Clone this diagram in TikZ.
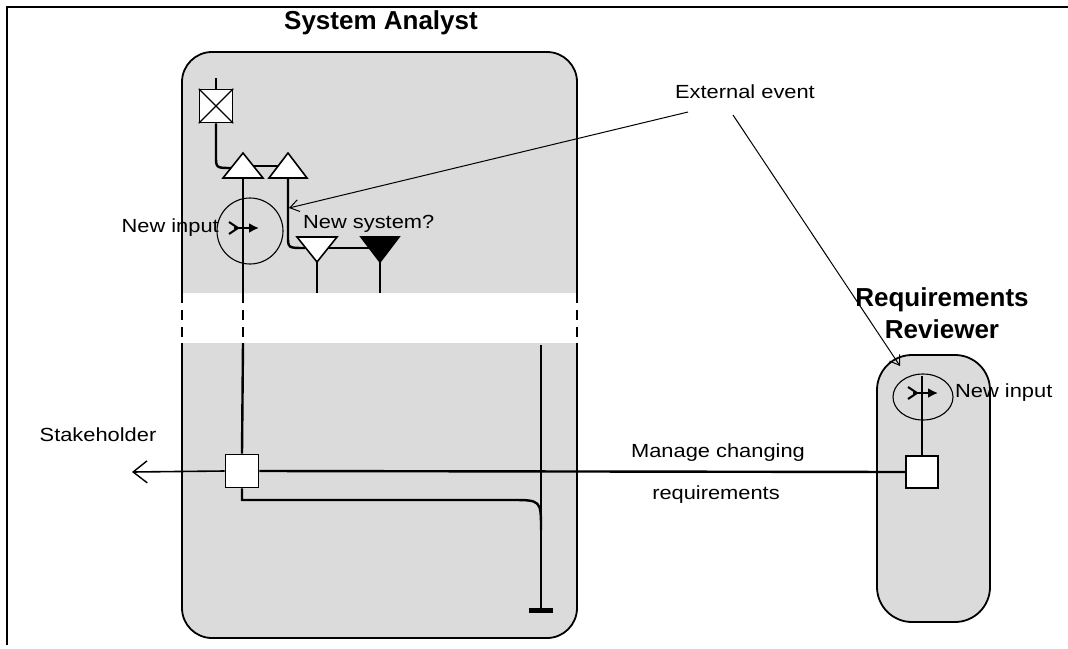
\documentclass[tikz,border=0pt]{standalone}
\usepackage{fontspec}
\setmainfont{Liberation Sans}
\newfontfamily\lblfont[FakeStretch=1.15]{Liberation Sans}
\usetikzlibrary{arrows.meta,shapes.geometric,calc}
\begin{document}
\begin{tikzpicture}[x=1pt,y=-1pt,
  lanefill/.style={fill=black!14},
  proc/.style={line width=2.4pt},
  thinl/.style={line width=1pt},
  sqbox/.style={draw, fill=white, line width=1.8pt, minimum size=33pt, inner sep=0pt},
  lbl/.style={font=\lblfont\fontsize{19}{22}\selectfont, inner sep=0pt},
  ttl/.style={font=\fontsize{26}{30}\selectfont\bfseries, inner sep=0pt, align=center},
  tri/.style={draw, fill=white, line width=1.6pt, line join=miter},
  bandd/.style={dash pattern=on 10pt off 7pt},
  inarr/.pic={
    \draw[line width=2pt] (-15,-6) -- (-6,0) -- (-15,6);
    \draw[line width=2.6pt,-{Latex[length=10pt,width=10pt]}] (-10,0) -- (15,0);
  }
  ]
\useasboundingbox (0,0) rectangle (1068,648);
% frame
\draw[line width=1.2pt] (1068,7) -- (7,7) -- (7,645);

% System Analyst lane
\begin{scope}
  \clip (0,0) rectangle (1068,293) (0,343) rectangle (1068,648);
  \node[draw, lanefill, rounded corners=30pt, line width=1.8pt,
        minimum width=395pt, minimum height=586pt, inner sep=0pt] (sa) at (379.5,345) {};
\end{scope}
\draw[line width=1.8pt, bandd] (182,293) -- (182,343);
\draw[line width=1.8pt, bandd] (577,293) -- (577,343);
\node[ttl] (satitle) at (381,23) {System Analyst};

% Requirements Reviewer lane
\node[draw, lanefill, rounded corners=35pt, line width=1.8pt,
      minimum width=113pt, minimum height=267pt, inner sep=0pt] (rr) at (933.5,488.5) {};
\node[ttl] (rrtitle) at (942,313) {Requirements\\[2pt]Reviewer};

% crossed box
\coordinate (xtop) at (216,78);
\node[sqbox, line width=1.5pt] (xb) at (216,106) {};
\draw[line width=1.2pt] (xb.north west) -- (xb.south east) (xb.north east) -- (xb.south west);
\draw[line width=1.8pt] (xtop) -- (xb.north);

% up triangles
\coordinate (t1a) at (243,153); \coordinate (t1l) at (223,178); \coordinate (t1r) at (263,178);
\coordinate (t2a) at (288,153); \coordinate (t2l) at (269,178); \coordinate (t2r) at (307,178);
\draw[proc] (xb.south) -- (216,156) .. controls (216,168) .. (232,168);
\draw[line width=1.6pt] (253,166) -- (278,166);
\draw[tri] (t1l) -- (t1a) -- (t1r) -- cycle;
\draw[tri] (t2l) -- (t2a) -- (t2r) -- cycle;

% down triangles
\coordinate (d1a) at (317,262); \coordinate (d2a) at (380,262);
\draw[proc] (288,178) -- (288,236) .. controls (288,248) .. (305,248);
\draw[line width=1.6pt] (327,248) -- (370,248);
\draw[tri] (297,237) -- (337,237) -- (d1a) -- cycle;
\draw[tri, fill=black] (361,237) -- (399,237) -- (d2a) -- cycle;
\draw[proc] (d1a) -- (317,293);
\draw[proc] (d2a) -- (380,293);

% main vertical of analyst
\node[sqbox] (sq1) at (242,471) {};
\draw[proc] (243,178) -- (243,293);
\draw[proc, bandd] (243,293) -- (243,343);
\draw[proc] (243,343) -- (sq1.north);

% new input circle
\node[circle, draw, line width=1.1pt, minimum size=66pt, inner sep=0pt] (c1) at (250,231) {};
\pic at (244,228) {inarr};
\node[lbl, anchor=east] (ni1) at (219,228) {New input};
\node[lbl, anchor=west] (ns) at (303,224) {New system?};

% lower part
\coordinate (endtop) at (541,345);
\coordinate (endbot) at (541,610);
\draw[proc] (endtop) -- (endbot);
\draw[line width=5pt] (529,610) -- (553,610);
\draw[proc] (sq1.south) -- (242,500) -- (511,500) .. controls (541,500) .. (541,530);

% reviewer
\node[ellipse, draw, line width=1.1pt, minimum width=60pt, minimum height=46pt, inner sep=0pt] (e2) at (923,397) {};
\node[sqbox, minimum size=32pt] (sq2) at (922,472) {};
\draw[proc] (922,376) -- (sq2.north);
\pic at (923,393) {inarr};
\node[lbl, anchor=west] (ni2) at (955,393) {New input};

% message line
\coordinate (stk) at (132,472);
\draw[proc] (sq1.east) -- (sq2.west);
\draw[line width=1.6pt, -{Straight Barb[length=14pt,width=22pt,line width=1.4pt]}] (sq1.west) -- (stk);
\node[lbl] (stkl) at (98,435) {Stakeholder};
\node[lbl] (mc1) at (718,453) {Manage changing};
\node[lbl] (mc2) at (716,495) {requirements};

% external event
\node[lbl] (ee) at (745,92) {External event};
\coordinate (ee1) at (688,112);
\coordinate (ee2) at (733,115);
\coordinate (hit1) at (289,208);
\coordinate (hit2) at (900,366);
\draw[thinl, -{Straight Barb[length=9pt,width=12pt]}] (ee1) -- (hit1);
\draw[thinl, -{Straight Barb[length=9pt,width=12pt]}] (ee2) -- (hit2);
\end{tikzpicture}
\end{document}
